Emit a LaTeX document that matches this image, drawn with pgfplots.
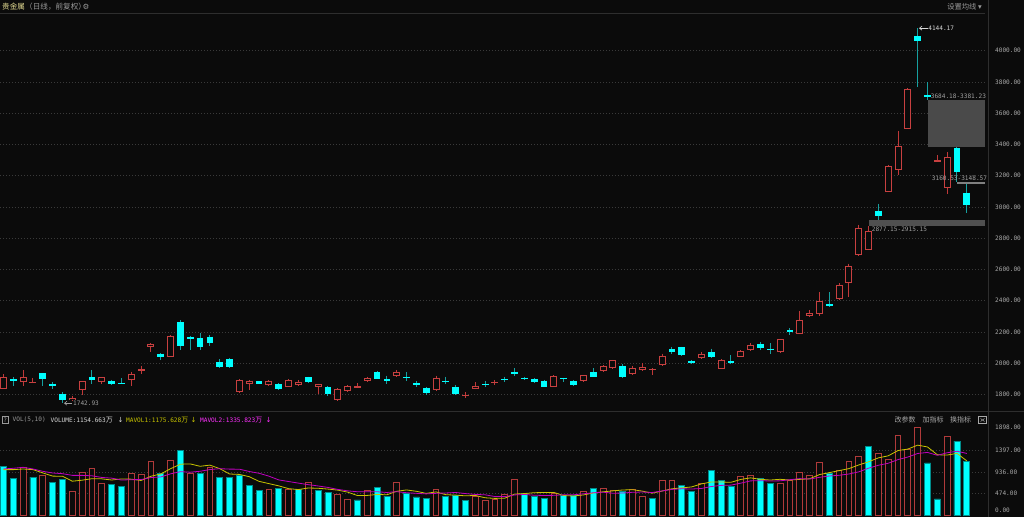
\documentclass[border=0pt]{standalone}
\usepackage{fontspec}
\usepackage{pgfplots}
\usepackage{pgfplotstable}
\pgfplotsset{compat=1.18}
\usetikzlibrary{arrows.meta}
\setmainfont{Liberation Sans}
\newfontfamily\mono{DejaVu Sans Mono}
\newfontfamily\cjk{Noto Sans CJK SC}
\newfontfamily\sym{DejaVu Sans}

\definecolor{bgc}{HTML}{0B0B0B}
\definecolor{gridc}{HTML}{3A3A3A}
\definecolor{sepc}{HTML}{2E2E2E}
\definecolor{labc}{HTML}{A8A8A8}
\definecolor{upc}{HTML}{C84040}
\definecolor{upwick}{HTML}{C03838}
\definecolor{dnc}{HTML}{00FFFF}
\definecolor{dnwick}{HTML}{16A0A0}
\definecolor{volup}{HTML}{B03A3A}
\definecolor{voldnedge}{HTML}{008C8C}
\definecolor{ma5c}{HTML}{C8C400}
\definecolor{ma10c}{HTML}{C000C0}
\definecolor{boxc}{HTML}{4A4A4A}
\definecolor{boxd}{HTML}{505050}
\definecolor{annc}{HTML}{A0A0A0}
\definecolor{annw}{HTML}{D8D8D8}
\definecolor{titlec}{HTML}{E0D890}
\definecolor{hdrgray}{HTML}{9A9A9A}
\definecolor{mag}{HTML}{FF30FF}

\newcommand\annfont{\mono\fontsize{6.1}{7}\selectfont}

\pgfplotstableread{
i o h l c
0 1836 1929 1834 1910
1 1899 1910 1855 1882
2 1876 1953 1850 1910
3 1872 1902 1870 1880
4 1936 1938 1850 1899
5 1868 1876 1833 1850
6 1804 1812 1742.93 1761
7 1761 1791 1755 1776
8 1829 1885 1797 1882
9 1908 1957 1868 1893
10 1876 1912 1868 1910
11 1885 1893 1861 1868
12 1874 1902 1863 1865
13 1889 1946 1850 1932
14 1955 1983 1932 1959
15 2100 2128 2074 2121
16 2060 2064 2017 2038
17 2042 2181 2040 2175
18 2262 2275 2085 2111
19 2166 2172 2081 2153
20 2162 2192 2085 2102
21 2170 2181 2111 2128
22 2006 2025 1966 1978
23 2025 2030 1968 1975
24 1812 1895 1810 1893
25 1865 1889 1829 1887
26 1882 1884 1864 1868
27 1857 1890 1855 1887
28 1863 1872 1829 1836
29 1846 1895 1844 1893
30 1857 1889 1850 1876
31 1910 1914 1872 1878
32 1846 1868 1804 1865
33 1844 1850 1791 1804
34 1761 1840 1758 1833
35 1818 1858 1816 1855
36 1843 1872 1840 1850
37 1882 1914 1878 1904
38 1940 1949 1897 1901
39 1897 1919 1868 1885
40 1919 1957 1908 1944
41 1914 1940 1882 1906
42 1872 1882 1846 1861
43 1842 1846 1795 1808
44 1825 1919 1823 1906
45 1887 1914 1868 1878
46 1846 1861 1795 1801
47 1792 1816 1774 1797
48 1836 1878 1834 1855
49 1868 1882 1846 1861
50 1871 1889 1859 1878
51 1897 1914 1876 1889
52 1946 1968 1919 1932
53 1906 1914 1889 1899
54 1899 1904 1874 1878
55 1887 1893 1844 1848
56 1848 1923 1846 1917
57 1906 1907 1876 1900
58 1882 1889 1853 1859
59 1887 1925 1878 1921
60 1944 1968 1908 1910
61 1949 1987 1940 1981
62 1966 2021 1963 2017
63 1981 1993 1902 1912
64 1927 1983 1923 1968
65 1953 2000 1950 1974
66 1955 1968 1921 1961
67 1985 2060 1982 2045
68 2087 2106 2055 2072
69 2100 2106 2045 2049
70 2015 2019 1995 1998
71 2030 2072 2023 2057
72 2072 2092 2034 2036
73 1961 2023 1959 2017
74 2013 2053 1993 1998
75 2042 2081 2036 2077
76 2085 2130 2079 2117
77 2119 2132 2081 2096
78 2092 2128 2055 2081
79 2068 2156 2066 2151
80 2211 2224 2178 2196
81 2188 2334 2186 2274
82 2302 2341 2293 2319
83 2313 2456 2304 2396
84 2377 2452 2362 2366
85 2409 2512 2405 2501
86 2512 2636 2426 2623
87 2690 2887 2687 2865
88 2726 2877.15 2724 2844
89 2976 3021 2915.15 2944
90 3098 3265 3096 3263
91 3233 3487 3201 3391
92 3500 3760 3498 3756
93 4092 4144.17 3765 4060
94 3716 3799 3684.18 3701
95 3291 3333 3289 3297
96 3120 3350 3081 3318
97 3376 3381.23 3160.53 3226
98 3092 3148.57 2964 3013
}\candles

\pgfplotstableread{
i v up ma5 ma10
0 1052 0 987 1001
1 806 0 987 1016
2 1038 1 1001 1037
3 828 0 987 1001
4 857 1 916 951
5 712 0 848 915
6 785 0 844 900
7 510 1 738 864
8 936 1 760 864
9 1016 1 792 854
10 698 1 789 819
11 662 0 764 804
12 625 0 787 763
13 907 1 782 771
14 879 1 754 773
15 1153 1 845 817
16 907 0 894 829
17 1189 1 1007 897
18 1392 0 1104 943
19 907 1 1110 932
20 900 0 1059 952
21 1030 1 1084 989
22 813 0 1008 1008
23 813 0 893 998
24 864 0 884 997
25 654 0 835 947
26 531 0 735 909
27 568 1 686 847
28 575 0 638 766
29 560 1 578 731
30 560 0 558 697
31 705 1 592 664
32 539 0 586 636
33 488 0 569 604
34 445 1 546 562
35 343 1 504 531
36 336 0 430 511
37 546 1 432 509
38 597 0 453 511
39 409 0 446 496
40 719 1 521 513
41 481 0 550 490
42 401 0 521 477
43 372 0 476 465
44 568 1 508 477
45 416 0 448 485
46 437 0 439 495
47 322 0 423 472
48 416 1 432 454
49 315 1 381 445
50 351 1 368 408
51 459 1 373 406
52 770 1 462 443
53 466 0 472 452
54 409 0 491 436
55 365 0 494 431
56 466 1 495 434
57 437 0 429 445
58 423 0 420 446
59 524 1 443 467
60 575 0 485 489
61 589 1 510 502
62 539 1 530 479
63 517 0 549 484
64 560 1 556 500
65 416 1 524 505
66 372 0 481 495
67 763 1 526 528
68 763 1 575 562
69 654 0 594 575
70 524 0 615 570
71 698 1 680 581
72 965 0 721 623
73 763 0 721 648
74 618 0 714 654
75 835 1 776 696
76 871 1 810 745
77 806 0 779 750
78 683 0 763 742
79 698 1 779 746
80 763 1 764 770
81 936 1 777 794
82 871 1 790 784
83 1132 1 880 821
84 907 0 922 850
85 980 1 965 865
86 1153 1 1009 893
87 1262 1 1087 939
88 1479 0 1156 1018
89 1327 1 1240 1081
90 1197 1 1284 1124
91 1725 1 1398 1203
92 1421 1 1430 1258
93 1898 1 1514 1335
94 1132 0 1475 1357
95 358 0 1307 1295
96 1696 1 1301 1350
97 1601 0 1337 1383
98 1154.663 0 1175.628 1335.823
}\vols

\begin{document}
\begin{tikzpicture}
\useasboundingbox (0pt,0pt) rectangle (1024pt,517pt);
\fill[bgc] (0pt,0pt) rectangle (1024pt,517pt);
\draw[sepc, line width=0.8pt] (0pt,503.5pt) -- (985pt,503.5pt);
\draw[sepc, line width=0.8pt] (988pt,0pt) -- (988pt,517pt);
\draw[sepc, line width=0.8pt] (0pt,106pt) -- (1024pt,106pt);

% ---------- header ----------
\node[anchor=west, inner sep=0pt, text=titlec, font=\cjk\fontsize{7.6}{8}\selectfont] at (2pt,510pt) {贵金属};
\node[anchor=west, inner sep=0pt, text=hdrgray, font=\cjk\fontsize{7.6}{8}\selectfont] at (25pt,510pt) {（日线，前复权）};
\node[inner sep=0pt, text=hdrgray, font=\sym\fontsize{7.5}{8}\selectfont] at (86pt,510pt) {⚙};
\node[anchor=east, inner sep=0pt, text=hdrgray, font=\cjk\fontsize{7.3}{8}\selectfont] at (982pt,510pt) {设置均线 {\sym ▾}};

% ---------- volume header ----------
\draw[hdrgray, line width=0.5pt] (2pt,93.5pt) rectangle (8.5pt,100.5pt);
\node[inner sep=0pt, text=hdrgray, font=\annfont] at (5.25pt,97pt) {?};
\node[anchor=west, inner sep=0pt, text=hdrgray, font=\annfont] at (12.5pt,97pt) {VOL(5,10)};
\node[anchor=west, inner sep=0pt, text=annw, font=\annfont] at (50.5pt,97pt) {VOLUME:1154.663{\cjk\fontsize{7}{8}\selectfont 万}};
\node[inner sep=0pt, text=annw, font=\sym\fontsize{7}{8}\selectfont] at (120.5pt,97pt) {↓};
\node[anchor=west, inner sep=0pt, text=ma5c, font=\annfont] at (126pt,97pt) {MAVOL1:1175.628{\cjk\fontsize{7}{8}\selectfont 万}};
\node[inner sep=0pt, text=ma5c, font=\sym\fontsize{7}{8}\selectfont] at (193.5pt,97pt) {↓};
\node[anchor=west, inner sep=0pt, text=mag, font=\annfont] at (200pt,97pt) {MAVOL2:1335.823{\cjk\fontsize{7}{8}\selectfont 万}};
\node[inner sep=0pt, text=mag, font=\sym\fontsize{7}{8}\selectfont] at (268.5pt,97pt) {↓};
\node[anchor=west, inner sep=0pt, text=labc, font=\cjk\fontsize{7}{8}\selectfont] at (894.5pt,97pt) {改参数};
\node[anchor=west, inner sep=0pt, text=labc, font=\cjk\fontsize{7}{8}\selectfont] at (922.5pt,97pt) {加指标};
\node[anchor=west, inner sep=0pt, text=labc, font=\cjk\fontsize{7}{8}\selectfont] at (950pt,97pt) {换指标};
\draw[labc, line width=0.5pt] (978.5pt,93.5pt) rectangle (986.5pt,100.5pt);
\draw[labc, line width=0.5pt] (980.5pt,95.5pt) -- (984.5pt,98.5pt) (980.5pt,98.5pt) -- (984.5pt,95.5pt);

% ---------- price panel ----------
\begin{axis}[
  at={(0pt,107pt)}, anchor=south west, scale only axis,
  width=985pt, height=396pt,
  xmin=-0.356, xmax=99.85, ymin=1699.5, ymax=4235,
  clip=false,
  axis line style={draw=none},
  xtick=\empty,
  ytick={1800,2000,2200,2400,2600,2800,3000,3200,3400,3600,3800,4000},
  yticklabels={1800.00,2000.00,2200.00,2400.00,2600.00,2800.00,3000.00,3200.00,3400.00,3600.00,3800.00,4000.00},
  yticklabel pos=right,
  yticklabel style={anchor=west, inner sep=0pt, xshift=10pt, font=\annfont, text=labc},
  major tick length=0pt,
  ymajorgrids,
  grid style={gridc, line width=0.6pt, dash pattern=on 1pt off 2pt},
]
\fill[boxc] (axis cs:94,3381.23) rectangle (axis cs:99.85,3684.18);
\fill[boxd] (axis cs:88,2877.15) rectangle (axis cs:99.85,2915.15);
\fill[gray] (axis cs:97,3148.57) rectangle (axis cs:99.85,3160.53);

% wicks
\addplot[draw=none, mark=none, forget plot, error bars/.cd, y dir=minus, y explicit, error mark=none,
  error bar style={draw=upwick, solid, line width=1pt}]
  table[x=i, y expr={(\thisrow{c}>=\thisrow{o}) ? \thisrow{h} : nan}, y error minus expr={\thisrow{h}-\thisrow{l}}] {\candles};
\addplot[draw=none, mark=none, forget plot, error bars/.cd, y dir=minus, y explicit, error mark=none,
  error bar style={draw=dnwick, solid, line width=1pt}]
  table[x=i, y expr={(\thisrow{c}<\thisrow{o}) ? \thisrow{h} : nan}, y error minus expr={\thisrow{h}-\thisrow{l}}] {\candles};
% red hollow bodies
\addplot[draw=none, mark=none, forget plot, error bars/.cd, y dir=minus, y explicit, error mark=none,
  error bar style={draw=upc, solid, line width=7pt}]
  table[x=i, y expr={(\thisrow{c}>=\thisrow{o}) ? \thisrow{c} : nan}, y error minus expr={max(\thisrow{c}-\thisrow{o},7)}] {\candles};
\addplot[draw=none, mark=none, forget plot, error bars/.cd, y dir=minus, y explicit, error mark=none,
  error bar style={draw=bgc, solid, line width=5pt}]
  table[x=i, y expr={(\thisrow{c}-\thisrow{o}>14) ? \thisrow{c}-6.4 : nan}, y error minus expr={\thisrow{c}-\thisrow{o}-12.8}] {\candles};
% cyan bodies
\addplot[draw=none, mark=none, forget plot, error bars/.cd, y dir=minus, y explicit, error mark=none,
  error bar style={draw=dnc, solid, line width=6.7pt}]
  table[x=i, y expr={(\thisrow{c}<\thisrow{o}) ? \thisrow{o} : nan}, y error minus expr={max(\thisrow{o}-\thisrow{c},7)}] {\candles};

% annotations
\node[anchor=south west, inner sep=0pt, font=\annfont, text=annc, yshift=1.2pt] at (axis cs:94.32,3684.18) {3684.18-3381.23};
\node[anchor=north west, inner sep=0pt, font=\annfont, text=annc, yshift=-1pt] at (axis cs:88.32,2877.15) {2877.15-2915.15};
\node[anchor=south west, inner sep=0pt, font=\annfont, text=annc, yshift=1pt] at (axis cs:94.43,3160.53) {3160.53-3148.57};
\draw[annw, line width=0.6pt, {Straight Barb[length=2.5pt,width=4pt]}-] ([xshift=1.3pt]axis cs:93,4144.17) -- ([xshift=10pt]axis cs:93,4144.17)
  node[anchor=west, inner sep=0.4pt, font=\annfont, text=annw] {4144.17};
\draw[annc, line width=0.6pt, {Straight Barb[length=2.5pt,width=4pt]}-] ([xshift=1.5pt]axis cs:6,1742.93) -- ([xshift=10pt]axis cs:6,1742.93)
  node[anchor=west, inner sep=0.4pt, font=\annfont, text=annc] {1742.93};
\end{axis}

% ---------- volume panel ----------
\begin{axis}[
  at={(0pt,0pt)}, anchor=south west, scale only axis,
  width=985pt, height=91pt,
  xmin=-0.356, xmax=99.85, ymin=-32.3, ymax=1926,
  axis line style={draw=none},
  xtick=\empty,
  ytick={474,936,1397},
  yticklabels={474.00,936.00,1397.00},
  extra y ticks={1898},
  extra y tick labels={1898.00},
  extra y tick style={grid=none},
  yticklabel pos=right,
  yticklabel style={anchor=west, inner sep=0pt, xshift=10pt, font=\annfont, text=labc},
  major tick length=0pt,
  ymajorgrids,
  grid style={gridc, line width=0.6pt, dash pattern=on 1pt off 2pt},
]
\addplot[ybar, bar width=5.8pt, bar shift=0pt, draw=volup, fill=bgc, line width=0.9pt]
  table[x=i, y expr={(\thisrow{up}>0) ? \thisrow{v} : nan}] {\vols};
\addplot[ybar, bar width=6pt, bar shift=0pt, draw=voldnedge, fill=dnc, line width=0.7pt]
  table[x=i, y expr={(\thisrow{up}>0) ? nan : \thisrow{v}}] {\vols};
\addplot[ma5c, line width=0.8pt, mark=none] table[x=i, y=ma5] {\vols};
\addplot[ma10c, line width=0.8pt, mark=none] table[x=i, y=ma10] {\vols};
\end{axis}
\node[anchor=west, inner sep=0pt, font=\annfont, text=labc] at (995pt,7pt) {0.00};
\end{tikzpicture}
\end{document}
